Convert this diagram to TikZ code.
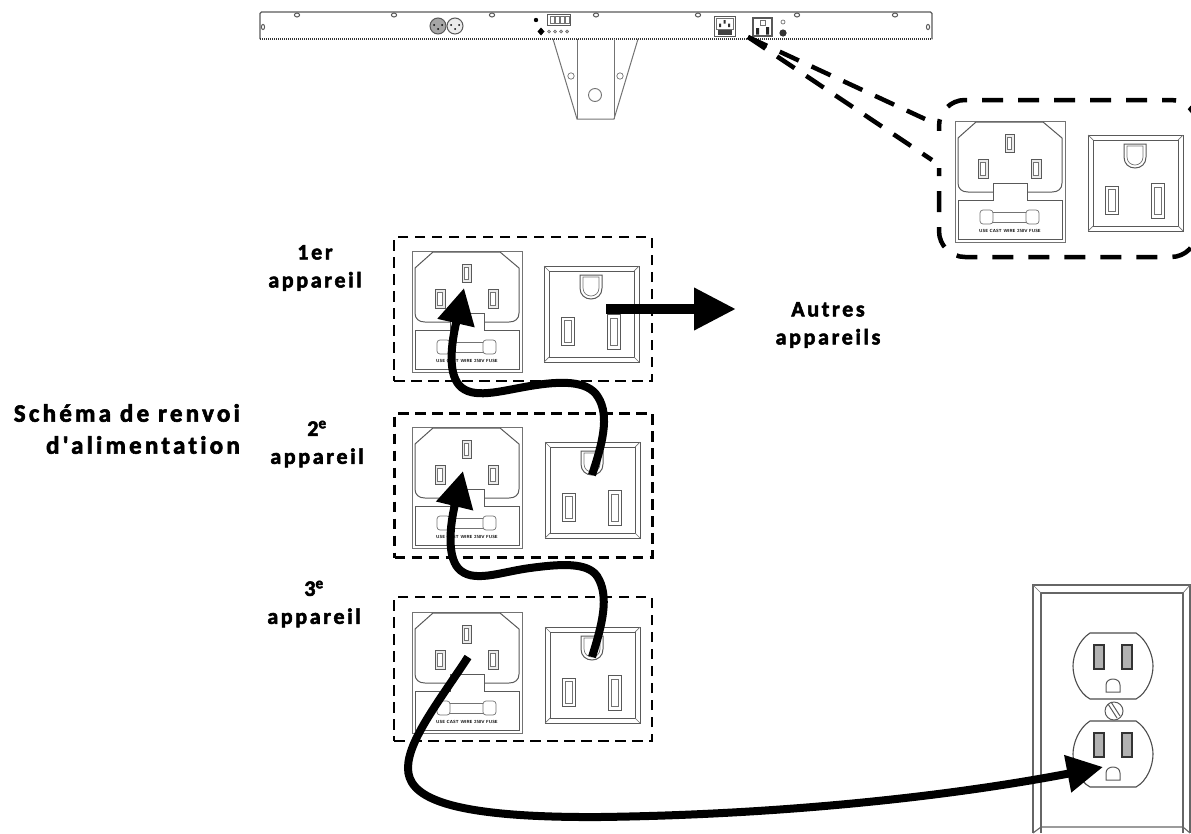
\documentclass[tikz,border=0pt]{standalone}
\usepackage{fontspec}
\newfontfamily\labelfont[LetterSpace=12,FakeBold=2.4,Ligatures=NoCommon]{Carlito Bold}
\newfontfamily\chainfont[LetterSpace=13,FakeBold=2.4,Ligatures=NoCommon]{Carlito Bold}
\usetikzlibrary{arrows.meta,calc}

\tikzset{
  hair/.style={draw=black!55,line width=.7pt},
  fine/.style={draw=black!65,line width=1pt},
  blade/.style={draw=black!65,line width=.8pt,fill=black!8},
  groupbox/.style={rectangle,draw,line width=2.6pt,dash pattern=on 10.5pt off 6.5pt,minimum width=258pt,minimum height=144pt,inner sep=0pt,outer sep=0pt},
  zoombox/.style={rectangle,draw,line width=4.5pt,dash pattern=on 21pt off 15pt,dash phase=12pt,rounded corners=26pt,minimum width=258pt,minimum height=157pt,inner sep=0pt,outer sep=0pt},
  zoomline/.style={line width=4.5pt,dash pattern=on 21pt off 14pt},
  title/.style={font=\labelfont\fontsize{22}{28}\selectfont,align=center,inner sep=0pt},
  chaintitle/.style={font=\chainfont\fontsize{25}{32}\selectfont,align=right,inner sep=0pt},
  cord/.style={line width=8pt,-{Triangle[length=36pt,width=36pt]}},
  inlet/.pic={
    \draw[hair] (0,0) rectangle (110,121);
    \draw[fine] (38,71) -- (13,71) .. controls (7,71) and (3,68) .. (3,62) -- (3,17) -- (21,1) -- (88,1) -- (107,17) -- (107,62) .. controls (107,68) and (103,71) .. (97,71) -- (72,71);
    \draw[fine] (38,71) -- (38,62) -- (72,62) -- (72,79) -- (107,79) -- (107,118) -- (3,118) -- (3,79) -- (38,79) -- (38,71);
    \draw[blade] (50,13) rectangle (59,31);
    \draw[blade] (23,38) rectangle (33,57);
    \draw[blade] (76,38) rectangle (86,57);
    \draw[hair,fill=white] (52.5,16) rectangle (56.5,28);
    \draw[hair,fill=white] (25.5,41) rectangle (30.5,54);
    \draw[hair,fill=white] (78.5,41) rectangle (83.5,54);
    \draw[hair] (36,91) rectangle (73,101);
    \draw[hair,rounded corners=3pt,fill=white] (25,89) rectangle (38,103);
    \draw[hair,rounded corners=3pt,fill=white] (71,89) rectangle (84,103);
    \node[inner sep=0pt,font=\sffamily\bfseries\fontsize{4.4}{5}\selectfont] (-fuse) at (55,110) {USE CAST WIRE 250V FUSE};
  },
  outlet/.pic={
    \draw[fine] (0,0) rectangle (95,96);
    \draw[fine] (5,5) rectangle (90,91);
    \draw[hair] (0,0) -- (5,5) (95,0) -- (90,5) (0,96) -- (5,91) (95,96) -- (90,91);
    \draw[fine] (36,9) -- (58,9) -- (58,22) .. controls (58,29) and (53,33) .. (47,33) .. controls (41,33) and (36,29) .. (36,22) -- cycle;
    \draw[hair] (39,11) -- (55,11) -- (55,22) .. controls (55,27) and (51,30) .. (47,30) .. controls (43,30) and (39,27) .. (39,22) -- cycle;
    \draw[fine] (17,51) rectangle (30,79);
    \draw[hair] (20,54) rectangle (27,76);
    \draw[fine] (63,48) rectangle (76,83);
    \draw[hair] (66,52) rectangle (73,79);
  },
  wallhalf/.pic={
    \draw[line width=1.1pt,draw=black!70] (-23,0) -- (23,0) .. controls (34,7) and (40,22) .. (40,33) .. controls (40,45) and (34,60) .. (23,66) -- (-23,66) .. controls (-34,60) and (-40,45) .. (-40,33) .. controls (-40,22) and (-34,7) .. (-23,0) -- cycle;
    \draw[draw=black!80,line width=1.2pt,fill=black!30] (-19,12) rectangle (-9,36);
    \draw[draw=black!80,line width=1.2pt,fill=black!30] (9,12) rectangle (19,36);
    \draw[fine,fill=white] (-7,59) -- (-7,52) .. controls (-7,44) and (7,44) .. (7,52) -- (7,59) -- cycle;
  }
}

\begin{document}
\begin{tikzpicture}[x=1pt,y=-1pt]
\useasboundingbox (0,0) rectangle (1191,833);

% Fixture seen from behind
\draw[fine,line width=1.1pt,rounded corners=1.5pt] (260,39) -- (260,12) -- (932,12) -- (932,39);
\draw[line width=2pt,dash pattern=on 1.2pt off .8pt,draw=black!80] (260,39) -- (932,39);
\foreach \xpos in {297,394,492,596,698,797,895} {
  \draw[fine] (\xpos,15) ellipse (2.6pt and 2pt);
}
\draw[fine] (263,27) ellipse (1.6pt and 2.6pt);
\draw[fine] (928,27) ellipse (1.6pt and 2.6pt);
\draw[fine,fill=black!35] (438,26) circle (8pt);
\draw[fine,fill=black!8] (455,26) circle (8pt);
\fill (438,29) circle (1pt) (434,25) circle (1pt) (442,25) circle (1pt);
\fill (455,29) circle (1pt) (451,25) circle (1pt) (459,25) circle (1pt);
\fill (536,20) circle (2.2pt);
\draw[fine] (547,14) rectangle (570,25);
\foreach \xpos in {552,557,562,567} {
  \draw[hair,line width=.5pt] (\xpos-2,16) rectangle (\xpos+2,23);
}
\fill (541,27.5) -- (544.5,31.5) -- (541,35.5) -- (537.5,31.5) -- cycle;
\foreach \xpos in {549,555,561,567} {
  \draw[hair,fill=black!25] (\xpos,31.5) circle (1.5pt);
}
\draw[hair,line width=1pt] (553,39) -- (577,119) -- (614,119) -- (638,39);
\draw[hair,line width=1pt] (577,39) -- (577,119) (614,39) -- (614,119);
\draw[hair] (571,76) circle (3.2pt);
\draw[hair] (620,76) circle (3.2pt);
\draw[hair,line width=.9pt] (595,95) circle (6.5pt);

% Small sockets on the fixture
\draw[fine] (714,16) rectangle (735,36);
\draw[hair] (716,18) -- (733,18) -- (733,29) -- (716,29) -- cycle;
\fill[black!80] (723.5,20) rectangle (725.5,23.5) (719,23.5) rectangle (721,27) (728,23.5) rectangle (730,27);
\fill[black!75] (718,30) rectangle (732,35);
\draw[fine,line width=1.2pt] (753,18) rectangle (772,36);
\draw[hair] (760,20) rectangle (765,25);
\fill[black!85] (756,28) rectangle (759,34.5) (766,27) rectangle (769,34.5);
\draw[hair] (783,22) circle (2pt);
\fill[black!80] (783,33) circle (3.6pt);

% Enlarged view
\node[zoombox] (callout) at (1068,178.5) {};
\fill[white] (934,131) rectangle (945,168);
\pic (inlet0) at (955,121) {inlet};
\pic (outlet0) at (1088,135) {outlet};
\coordinate (socket) at (748,37);
\coordinate (calloutup) at (925,119);
\coordinate (calloutlow) at (932,160);
\draw[zoomline] (socket) -- (calloutup);
\draw[zoomline] (socket) -- (calloutlow);

% Three devices
\node[groupbox] (box1) at (523,309) {};
\node[groupbox] (box2) at (523.5,485.5) {};
\node[groupbox] (box3) at (523,669) {};
\pic (inlet1) at (412,251) {inlet};
\pic (outlet1) at (544,266) {outlet};
\pic (inlet2) at (412,427) {inlet};
\pic (outlet2) at (545,442) {outlet};
\pic (inlet3) at (412,612) {inlet};
\pic (outlet3) at (545,627) {outlet};

% Wall socket
\draw[line width=1.4pt,draw=black!60] (1033,833) -- (1033,585) -- (1190,585) -- (1190,833);
\draw[line width=1.4pt,draw=black!60] (1041,833) -- (1041,593) -- (1183,593) -- (1183,833);
\draw[hair] (1033,585) -- (1041,593) (1190,585) -- (1183,593);
\draw[line width=1.1pt,draw=black!60] (1033,833) -- (1041,827) -- (1183,827) -- (1190,833);
\pic (wallup) at (1113,633) {wallhalf};
\pic (walldown) at (1113,721) {wallhalf};
\draw[fine] (1114,711) circle (9pt);
\draw[fine] (1108,704) -- (1117,718) (1111,702) -- (1120,716);

% Power cords
\coordinate (ground2) at (592,475);
\coordinate (ground3) at (592,657);
\coordinate (live1) at (464,288);
\coordinate (live2) at (463,471);
\coordinate (live3) at (468,657);
\coordinate (hot1) at (606,309);
\coordinate (others) at (736,309);
\coordinate (wall) at (1103,767);
\draw[line width=10pt,-{Triangle[length=42pt,width=40pt]}] (hot1) -- (others);
\draw[cord] (ground2) .. controls (602,445) and (610,416) .. (598,397) .. controls (588,380) and (560,381) .. (530,386) .. controls (500,391) and (472,400) .. (459,385) .. controls (448,372) and (451,345) .. (live1);
\draw[cord] (ground3) .. controls (602,625) and (610,596) .. (597,576) .. controls (587,562) and (560,564) .. (530,568) .. controls (500,572) and (472,584) .. (458,568) .. controls (447,555) and (450,525) .. (live2);
\draw[cord] (live3) .. controls (440,700) and (408,740) .. (408,768) .. controls (408,795) and (440,818) .. (600,817) .. controls (760,815) and (930,800) .. (wall);

% Labels
\node[chaintitle,anchor=east] (chain) at (240,429) {Schéma de renvoi\\d'alimentation};
\node[title] (dev1) at (315,268) {1er\\appareil};
\node[title] (dev2) at (317,444) {2\textsuperscript{e}\\appareil};
\node[title] (dev3) at (314,604) {3\textsuperscript{e}\\appareil};
\node[title] (rest) at (828,325) {Autres\\appareils};
\end{tikzpicture}
\end{document}
